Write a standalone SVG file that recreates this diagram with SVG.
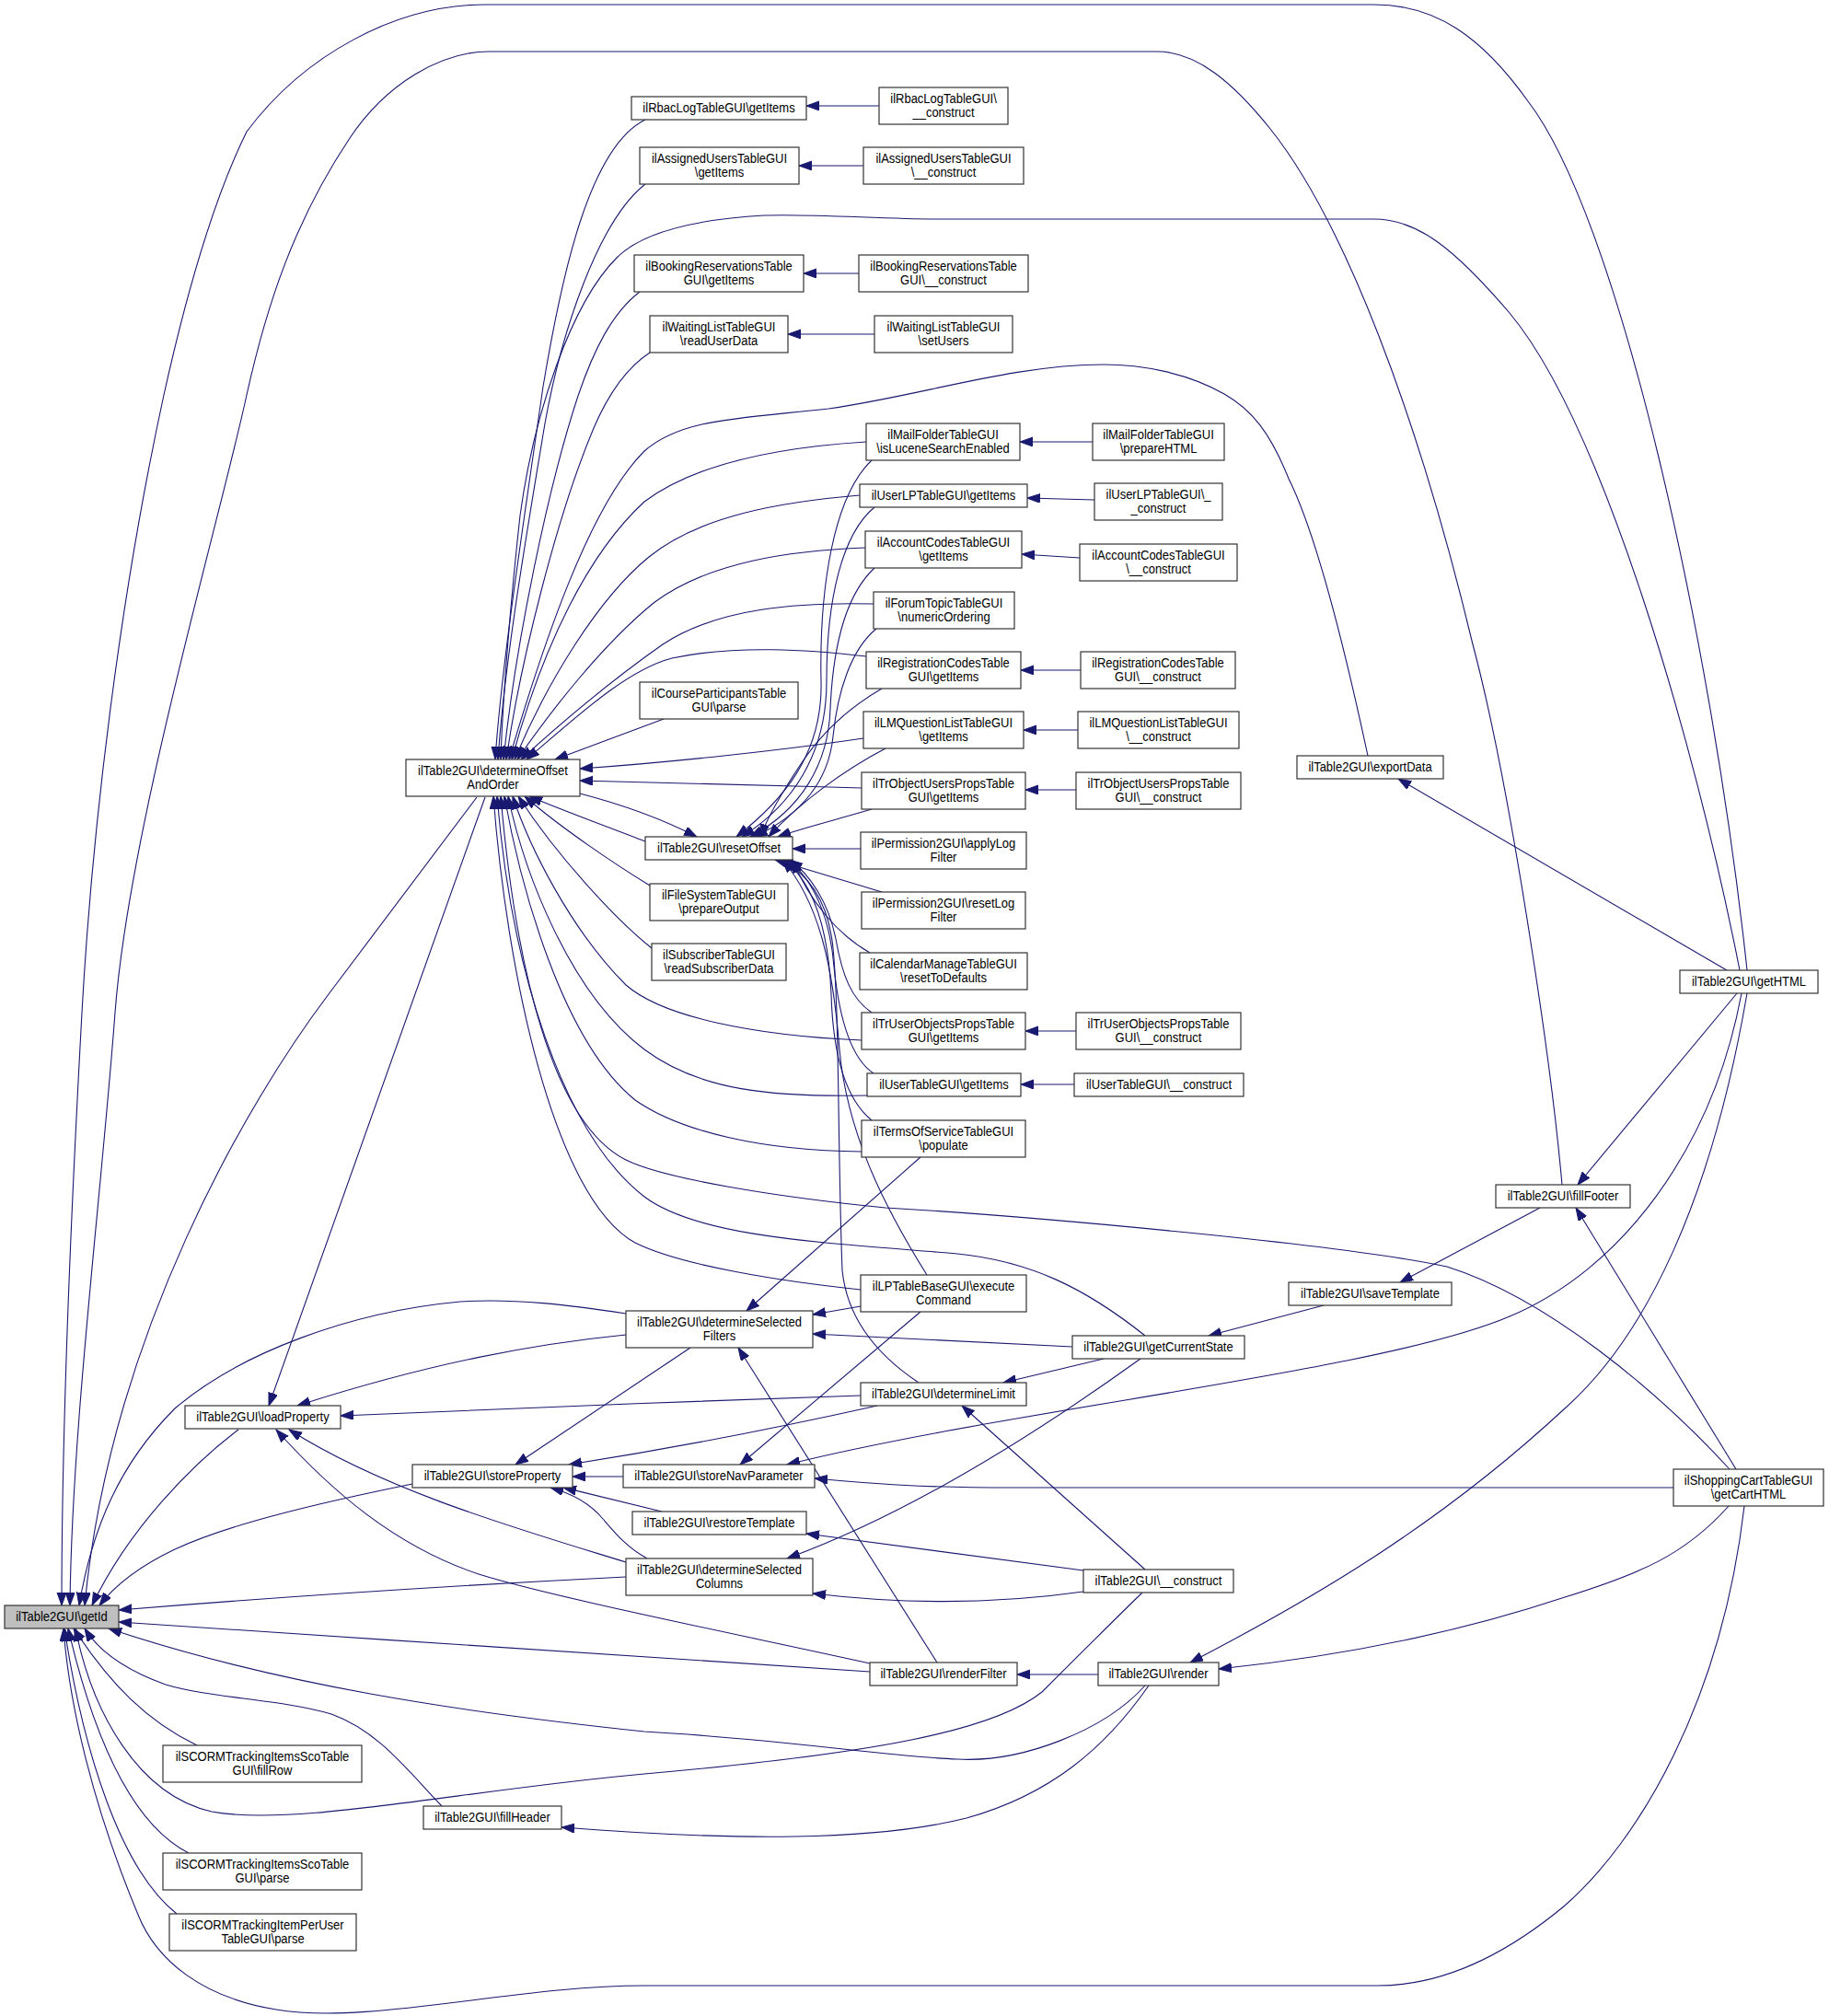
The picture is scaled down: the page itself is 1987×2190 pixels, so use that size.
<svg xmlns="http://www.w3.org/2000/svg" width="1987" height="2190" viewBox="0 0 1987 2190">
<style>
.n rect{fill:#fff;stroke:#333;stroke-width:1.2}
.n text{font-family:"Liberation Sans",Arial,Helvetica,sans-serif;font-size:15px;text-anchor:middle;fill:#000}
.e path{fill:none;stroke:#191970;stroke-width:1.1;marker-end:url(#a)}
</style>
<defs>
<marker id="a" markerUnits="userSpaceOnUse" markerWidth="15" markerHeight="11" refX="14" refY="5" orient="auto" viewBox="0 0 15 11">
<path d="M0,0 L14,5 L0,10 z" fill="#191970" stroke="#191970" stroke-width="1"/>
</marker>
</defs>
<rect width="1987" height="2190" fill="#fff"/>
<g id="edges" class="e">
<path d="M1898,1054 C1860,700 1760,240 1660,110 C1610,40 1560,5 1493,5 L527,5 C430,5 330,60 268,143 C230,220 200,330 178,429 C130,650 100,900 89,1100 C78,1300 67,1550 67,1744"/>
<path d="M1697,1287 C1685,1150 1640,850 1600,700 C1540,450 1460,240 1380,140 C1340,90 1300,56 1257,56 L531,56 C480,56 420,90 380,150 C320,240 290,330 268,429 C240,560 140,900 125,1100 C110,1300 78,1550 76,1744"/>
<path d="M1895,1636 C1870,1850 1780,2000 1700,2070 C1640,2120 1570,2157 1497,2157 L700,2157 C560,2157 400,2200 300,2183 C220,2170 170,2130 150,2080 C100,1960 75,1850 69,1769"/>
<path d="M518,866 L357,1080 C270,1195 120,1450 92,1744"/>
<path d="M680,1427 C620,1418 560,1410 500,1414 C380,1425 260,1470 190,1530 C130,1590 100,1660 86,1744"/>
<path d="M259,1553 C210,1590 140,1660 100,1744"/>
<path d="M448,1612 C350,1632 250,1655 190,1683 C150,1702 125,1722 108,1744"/>
<path d="M680,1713 C500,1722 300,1735 129,1749"/>
<path d="M945,1816 C700,1800 400,1780 129,1762"/>
<path d="M1244,1831 C1200,1880 1110,1915 1040,1911 C960,1908 860,1890 700,1881 C500,1860 300,1830 118,1769"/>
<path d="M1241,1730 C1200,1770 1160,1810 1132,1838 C1080,1880 950,1905 700,1927 C500,1945 320,1985 230,1968 C150,1950 100,1860 82,1769"/>
<path d="M480,1962 C440,1920 410,1880 360,1862 C300,1845 230,1845 180,1830 C130,1812 105,1790 92,1769"/>
<path d="M214,1896 C160,1870 120,1830 80,1769"/>
<path d="M205,2013 C140,1980 100,1880 74,1769"/>
<path d="M192,2079 C130,2030 90,1900 70,1769"/>
<path d="M701,130 C640,160 610,300 590,420 C570,560 545,720 538,825"/>
<path d="M701,200 C650,240 610,360 592,460 C572,580 548,720 541,825"/>
<path d="M1890,1054 C1840,800 1740,460 1640,340 C1580,270 1540,238 1493,238 L1020,238 C960,238 880,232 830,234 C760,238 700,250 670,280 C620,330 580,450 565,560 C555,650 546,760 544,825"/>
<path d="M695,317 C665,340 645,380 628,430 C595,530 560,700 547,825"/>
<path d="M706,383 C680,400 660,430 645,465 C605,560 565,720 550,825"/>
<path d="M1486,821 C1460,700 1430,580 1400,520 C1380,470 1360,445 1330,428 C1290,405 1240,396 1199,396 C1100,396 1000,430 900,444 C800,455 740,455 700,490 C640,550 590,700 553,825"/>
<path d="M941,480 C860,485 760,500 700,545 C640,600 590,700 556,825"/>
<path d="M934,538 C850,545 760,560 705,605 C650,650 595,740 559,825"/>
<path d="M940,595 C860,598 770,610 710,655 C655,700 600,770 562,825"/>
<path d="M949,656 C870,654 780,660 720,700 C670,735 610,785 566,825"/>
<path d="M941,713 C880,706 800,700 730,715 C680,728 625,780 572,825"/>
<path d="M721,781 L603,825"/>
<path d="M938,802 C850,815 730,828 630,835"/>
<path d="M936,856 C830,853 720,850 630,848"/>
<path d="M701,914 C660,898 610,880 575,865"/>
<path d="M706,962 C670,940 610,900 570,865"/>
<path d="M708,1030 C670,1000 605,930 563,865"/>
<path d="M936,1130 C820,1125 720,1105 680,1070 C620,1010 575,920 557,865"/>
<path d="M942,1190 C840,1192 760,1185 700,1140 C620,1080 570,950 552,865"/>
<path d="M936,1251 C830,1250 740,1230 690,1195 C610,1130 565,960 548,865"/>
<path d="M1879,1596 C1800,1510 1680,1410 1572,1376 C1450,1350 1100,1320 962,1312 C840,1300 720,1280 680,1260 C600,1220 560,1050 544,865"/>
<path d="M1244,1451 C1180,1400 1120,1370 1040,1362 C900,1350 760,1345 700,1300 C610,1230 555,1050 540,865"/>
<path d="M935,1401 C850,1392 740,1375 690,1350 C600,1300 550,1050 536,865"/>
<path d="M527,866 L292,1527"/>
<path d="M630,862 C680,875 720,890 757,909"/>
<path d="M680,1450 C580,1460 470,1480 323,1527"/>
<path d="M935,1516 C750,1522 550,1530 370,1538"/>
<path d="M945,1807 C800,1775 600,1735 520,1710 C430,1680 360,1620 300,1553"/>
<path d="M680,1697 C560,1660 420,1620 314,1553"/>
<path d="M750,1464 L560,1591"/>
<path d="M953,1527 C850,1550 720,1575 618,1591"/>
<path d="M677,1604 L622,1604"/>
<path d="M719,1642 C690,1635 650,1625 612,1616"/>
<path d="M703,1693 C680,1680 668,1665 655,1650 C640,1632 620,1622 598,1616"/>
<path d="M1000,1257 L811,1424"/>
<path d="M935,1419 L883,1428"/>
<path d="M1165,1463 C1050,1458 950,1452 883,1449"/>
<path d="M1018,1806 L802,1464"/>
<path d="M1239,1476 C1150,1540 1000,1640 855,1693"/>
<path d="M1177,1729 C1100,1740 1000,1745 883,1731"/>
<path d="M1193,1819 L1105,1819"/>
<path d="M1898,1079 C1860,1300 1790,1450 1700,1530 C1560,1660 1420,1740 1293,1806"/>
<path d="M1878,1636 C1830,1690 1780,1710 1700,1735 C1580,1775 1450,1800 1324,1813"/>
<path d="M1248,1831 C1200,1900 1140,1950 1050,1975 C950,2000 800,2000 610,1985"/>
<path d="M1887,1079 L1714,1287"/>
<path d="M1886,1596 L1712,1312"/>
<path d="M1673,1312 L1521,1393"/>
<path d="M1438,1418 L1313,1451"/>
<path d="M1199,1476 L1090,1502"/>
<path d="M1244,1705 L1045,1527"/>
<path d="M1000,1425 L804,1591"/>
<path d="M1892,1079 C1860,1250 1760,1380 1640,1430 C1500,1490 1100,1530 855,1591"/>
<path d="M1818,1616 L1100,1616 C1000,1616 950,1612 885,1606"/>
<path d="M1177,1706 L876,1666"/>
<path d="M1876,1054 L1519,846"/>
<path d="M947,500 C905,540 890,640 892,740 C894,820 850,870 800,909"/>
<path d="M950,551 C915,580 898,650 898,740 C898,820 860,875 806,909"/>
<path d="M950,617 C920,645 905,700 902,770 C900,830 870,880 815,909"/>
<path d="M952,683 C925,705 910,750 905,800 C900,850 870,885 820,909"/>
<path d="M958,748 C920,770 890,800 870,830 C850,860 835,885 826,909"/>
<path d="M962,813 C920,835 870,870 835,909"/>
<path d="M947,879 C910,890 870,900 845,909"/>
<path d="M935,922 L861,922"/>
<path d="M958,969 L842,934"/>
<path d="M945,1035 C910,1015 880,980 861,934"/>
<path d="M947,1100 C925,1085 915,1060 908,1020 C900,980 880,950 858,934"/>
<path d="M949,1166 C925,1150 912,1110 906,1050 C902,1000 885,955 855,934"/>
<path d="M947,1217 C920,1195 905,1150 903,1080 C900,1010 885,960 852,934"/>
<path d="M1007,1385 C960,1310 920,1230 912,1140 C905,1050 890,980 850,934"/>
<path d="M998,1502 C950,1470 920,1430 915,1380 C910,1250 912,1100 905,1030 C900,980 880,950 848,934"/>
<path d="M955,115 L876,115"/>
<path d="M938,180 L868,180"/>
<path d="M933,297 L873,297"/>
<path d="M950,363 L856,363"/>
<path d="M1187,480 L1108,480"/>
<path d="M1189,543 L1116,541"/>
<path d="M1173,606 L1110,602"/>
<path d="M1174,728 L1109,728"/>
<path d="M1171,793 L1112,793"/>
<path d="M1169,858 L1114,858"/>
<path d="M1169,1120 L1114,1120"/>
<path d="M1167,1178 L1109,1178"/>
</g>
<g id="n-getId" class="n"><rect x="5" y="1744" width="124" height="25" style="fill:#bfbfbf"/><text transform="translate(67,1761) scale(0.867,1)">ilTable2GUI\getId</text></g>
<g id="n-determineOffsetAndOrder" class="n"><rect x="441" y="825" width="189" height="40"/><text transform="translate(535.5,842) scale(0.867,1)">ilTable2GUI\determineOffset</text><text transform="translate(535.5,857) scale(0.867,1)">AndOrder</text></g>
<g id="n-loadProperty" class="n"><rect x="201" y="1527" width="169" height="25"/><text transform="translate(285.5,1544) scale(0.867,1)">ilTable2GUI\loadProperty</text></g>
<g id="n-storeProperty" class="n"><rect x="448" y="1591" width="174" height="25"/><text transform="translate(535,1608) scale(0.867,1)">ilTable2GUI\storeProperty</text></g>
<g id="n-determineSelectedFilters" class="n"><rect x="680" y="1424" width="203" height="40"/><text transform="translate(781.5,1441) scale(0.867,1)">ilTable2GUI\determineSelected</text><text transform="translate(781.5,1456) scale(0.867,1)">Filters</text></g>
<g id="n-determineSelectedColumns" class="n"><rect x="680" y="1693" width="203" height="40"/><text transform="translate(781.5,1710) scale(0.867,1)">ilTable2GUI\determineSelected</text><text transform="translate(781.5,1725) scale(0.867,1)">Columns</text></g>
<g id="n-renderFilter" class="n"><rect x="945" y="1806" width="160" height="25"/><text transform="translate(1025,1823) scale(0.867,1)">ilTable2GUI\renderFilter</text></g>
<g id="n-render" class="n"><rect x="1193" y="1806" width="131" height="25"/><text transform="translate(1258.5,1823) scale(0.867,1)">ilTable2GUI\render</text></g>
<g id="n-fillHeader" class="n"><rect x="460" y="1962" width="150" height="25"/><text transform="translate(535,1979) scale(0.867,1)">ilTable2GUI\fillHeader</text></g>
<g id="n-fillFooter" class="n"><rect x="1625" y="1287" width="146" height="25"/><text transform="translate(1698,1304) scale(0.867,1)">ilTable2GUI\fillFooter</text></g>
<g id="n-getHTML" class="n"><rect x="1825" y="1054" width="150" height="25"/><text transform="translate(1900,1071) scale(0.867,1)">ilTable2GUI\getHTML</text></g>
<g id="n-getCartHTML" class="n"><rect x="1818" y="1596" width="163" height="40"/><text transform="translate(1899.5,1613) scale(0.867,1)">ilShoppingCartTableGUI</text><text transform="translate(1899.5,1628) scale(0.867,1)">\getCartHTML</text></g>
<g id="n-construct" class="n"><rect x="1177" y="1705" width="163" height="25"/><text transform="translate(1258.5,1722) scale(0.867,1)">ilTable2GUI\__construct</text></g>
<g id="n-scoFillRow" class="n"><rect x="177" y="1896" width="216" height="40"/><text transform="translate(285,1913) scale(0.867,1)">ilSCORMTrackingItemsScoTable</text><text transform="translate(285,1928) scale(0.867,1)">GUI\fillRow</text></g>
<g id="n-scoParse" class="n"><rect x="177" y="2013" width="216" height="40"/><text transform="translate(285,2030) scale(0.867,1)">ilSCORMTrackingItemsScoTable</text><text transform="translate(285,2045) scale(0.867,1)">GUI\parse</text></g>
<g id="n-perUserParse" class="n"><rect x="184" y="2079" width="203" height="40"/><text transform="translate(285.5,2096) scale(0.867,1)">ilSCORMTrackingItemPerUser</text><text transform="translate(285.5,2111) scale(0.867,1)">TableGUI\parse</text></g>
<g id="n-resetOffset" class="n"><rect x="701" y="909" width="160" height="25"/><text transform="translate(781,926) scale(0.867,1)">ilTable2GUI\resetOffset</text></g>
<g id="n-storeNavParameter" class="n"><rect x="677" y="1591" width="208" height="25"/><text transform="translate(781,1608) scale(0.867,1)">ilTable2GUI\storeNavParameter</text></g>
<g id="n-restoreTemplate" class="n"><rect x="687" y="1642" width="189" height="25"/><text transform="translate(781.5,1659) scale(0.867,1)">ilTable2GUI\restoreTemplate</text></g>
<g id="n-determineLimit" class="n"><rect x="935" y="1502" width="180" height="25"/><text transform="translate(1025,1519) scale(0.867,1)">ilTable2GUI\determineLimit</text></g>
<g id="n-getCurrentState" class="n"><rect x="1165" y="1451" width="187" height="25"/><text transform="translate(1258.5,1468) scale(0.867,1)">ilTable2GUI\getCurrentState</text></g>
<g id="n-saveTemplate" class="n"><rect x="1400" y="1393" width="177" height="25"/><text transform="translate(1488.5,1410) scale(0.867,1)">ilTable2GUI\saveTemplate</text></g>
<g id="n-exportData" class="n"><rect x="1409" y="821" width="159" height="25"/><text transform="translate(1488.5,838) scale(0.867,1)">ilTable2GUI\exportData</text></g>
<g id="n-executeCommand" class="n"><rect x="935" y="1385" width="180" height="40"/><text transform="translate(1025,1402) scale(0.867,1)">ilLPTableBaseGUI\execute</text><text transform="translate(1025,1417) scale(0.867,1)">Command</text></g>
<g id="n-tosPopulate" class="n"><rect x="936" y="1217" width="178" height="40"/><text transform="translate(1025,1234) scale(0.867,1)">ilTermsOfServiceTableGUI</text><text transform="translate(1025,1249) scale(0.867,1)">\populate</text></g>
<g id="n-userGetItems" class="n"><rect x="942" y="1166" width="167" height="25"/><text transform="translate(1025.5,1183) scale(0.867,1)">ilUserTableGUI\getItems</text></g>
<g id="n-userConstruct" class="n"><rect x="1167" y="1166" width="184" height="25"/><text transform="translate(1259,1183) scale(0.867,1)">ilUserTableGUI\__construct</text></g>
<g id="n-truopGetItems" class="n"><rect x="936" y="1100" width="178" height="40"/><text transform="translate(1025,1117) scale(0.867,1)">ilTrUserObjectsPropsTable</text><text transform="translate(1025,1132) scale(0.867,1)">GUI\getItems</text></g>
<g id="n-truopConstruct" class="n"><rect x="1169" y="1100" width="179" height="40"/><text transform="translate(1258.5,1117) scale(0.867,1)">ilTrUserObjectsPropsTable</text><text transform="translate(1258.5,1132) scale(0.867,1)">GUI\__construct</text></g>
<g id="n-calendarReset" class="n"><rect x="934" y="1035" width="182" height="40"/><text transform="translate(1025,1052) scale(0.867,1)">ilCalendarManageTableGUI</text><text transform="translate(1025,1067) scale(0.867,1)">\resetToDefaults</text></g>
<g id="n-permResetLog" class="n"><rect x="936" y="969" width="178" height="40"/><text transform="translate(1025,986) scale(0.867,1)">ilPermission2GUI\resetLog</text><text transform="translate(1025,1001) scale(0.867,1)">Filter</text></g>
<g id="n-permApplyLog" class="n"><rect x="935" y="904" width="180" height="40"/><text transform="translate(1025,921) scale(0.867,1)">ilPermission2GUI\applyLog</text><text transform="translate(1025,936) scale(0.867,1)">Filter</text></g>
<g id="n-troupGetItems" class="n"><rect x="936" y="839" width="178" height="40"/><text transform="translate(1025,856) scale(0.867,1)">ilTrObjectUsersPropsTable</text><text transform="translate(1025,871) scale(0.867,1)">GUI\getItems</text></g>
<g id="n-troupConstruct" class="n"><rect x="1169" y="839" width="179" height="40"/><text transform="translate(1258.5,856) scale(0.867,1)">ilTrObjectUsersPropsTable</text><text transform="translate(1258.5,871) scale(0.867,1)">GUI\__construct</text></g>
<g id="n-lmqGetItems" class="n"><rect x="938" y="773" width="174" height="40"/><text transform="translate(1025,790) scale(0.867,1)">ilLMQuestionListTableGUI</text><text transform="translate(1025,805) scale(0.867,1)">\getItems</text></g>
<g id="n-lmqConstruct" class="n"><rect x="1171" y="773" width="175" height="40"/><text transform="translate(1258.5,790) scale(0.867,1)">ilLMQuestionListTableGUI</text><text transform="translate(1258.5,805) scale(0.867,1)">\__construct</text></g>
<g id="n-regGetItems" class="n"><rect x="941" y="708" width="168" height="40"/><text transform="translate(1025,725) scale(0.867,1)">ilRegistrationCodesTable</text><text transform="translate(1025,740) scale(0.867,1)">GUI\getItems</text></g>
<g id="n-regConstruct" class="n"><rect x="1174" y="708" width="168" height="40"/><text transform="translate(1258,725) scale(0.867,1)">ilRegistrationCodesTable</text><text transform="translate(1258,740) scale(0.867,1)">GUI\__construct</text></g>
<g id="n-courseParse" class="n"><rect x="695" y="741" width="172" height="40"/><text transform="translate(781,758) scale(0.867,1)">ilCourseParticipantsTable</text><text transform="translate(781,773) scale(0.867,1)">GUI\parse</text></g>
<g id="n-forumOrdering" class="n"><rect x="949" y="643" width="153" height="40"/><text transform="translate(1025.5,660) scale(0.867,1)">ilForumTopicTableGUI</text><text transform="translate(1025.5,675) scale(0.867,1)">\numericOrdering</text></g>
<g id="n-accGetItems" class="n"><rect x="940" y="577" width="170" height="40"/><text transform="translate(1025,594) scale(0.867,1)">ilAccountCodesTableGUI</text><text transform="translate(1025,609) scale(0.867,1)">\getItems</text></g>
<g id="n-accConstruct" class="n"><rect x="1173" y="591" width="171" height="40"/><text transform="translate(1258.5,608) scale(0.867,1)">ilAccountCodesTableGUI</text><text transform="translate(1258.5,623) scale(0.867,1)">\__construct</text></g>
<g id="n-ulpGetItems" class="n"><rect x="934" y="526" width="182" height="25"/><text transform="translate(1025,543) scale(0.867,1)">ilUserLPTableGUI\getItems</text></g>
<g id="n-ulpConstruct" class="n"><rect x="1189" y="525" width="139" height="40"/><text transform="translate(1258.5,542) scale(0.867,1)">ilUserLPTableGUI\_</text><text transform="translate(1258.5,557) scale(0.867,1)">_construct</text></g>
<g id="n-mailLucene" class="n"><rect x="941" y="460" width="167" height="40"/><text transform="translate(1024.5,477) scale(0.867,1)">ilMailFolderTableGUI</text><text transform="translate(1024.5,492) scale(0.867,1)">\isLuceneSearchEnabled</text></g>
<g id="n-mailPrepare" class="n"><rect x="1187" y="460" width="143" height="40"/><text transform="translate(1258.5,477) scale(0.867,1)">ilMailFolderTableGUI</text><text transform="translate(1258.5,492) scale(0.867,1)">\prepareHTML</text></g>
<g id="n-waitRead" class="n"><rect x="706" y="343" width="150" height="40"/><text transform="translate(781,360) scale(0.867,1)">ilWaitingListTableGUI</text><text transform="translate(781,375) scale(0.867,1)">\readUserData</text></g>
<g id="n-waitSet" class="n"><rect x="950" y="343" width="150" height="40"/><text transform="translate(1025,360) scale(0.867,1)">ilWaitingListTableGUI</text><text transform="translate(1025,375) scale(0.867,1)">\setUsers</text></g>
<g id="n-bookGetItems" class="n"><rect x="689" y="277" width="184" height="40"/><text transform="translate(781,294) scale(0.867,1)">ilBookingReservationsTable</text><text transform="translate(781,309) scale(0.867,1)">GUI\getItems</text></g>
<g id="n-bookConstruct" class="n"><rect x="933" y="277" width="184" height="40"/><text transform="translate(1025,294) scale(0.867,1)">ilBookingReservationsTable</text><text transform="translate(1025,309) scale(0.867,1)">GUI\__construct</text></g>
<g id="n-assignGetItems" class="n"><rect x="695" y="160" width="173" height="40"/><text transform="translate(781.5,177) scale(0.867,1)">ilAssignedUsersTableGUI</text><text transform="translate(781.5,192) scale(0.867,1)">\getItems</text></g>
<g id="n-assignConstruct" class="n"><rect x="938" y="160" width="174" height="40"/><text transform="translate(1025,177) scale(0.867,1)">ilAssignedUsersTableGUI</text><text transform="translate(1025,192) scale(0.867,1)">\__construct</text></g>
<g id="n-rbacGetItems" class="n"><rect x="686" y="105" width="190" height="25"/><text transform="translate(781,122) scale(0.867,1)">ilRbacLogTableGUI\getItems</text></g>
<g id="n-rbacConstruct" class="n"><rect x="955" y="95" width="140" height="40"/><text transform="translate(1025,112) scale(0.867,1)">ilRbacLogTableGUI\</text><text transform="translate(1025,127) scale(0.867,1)">__construct</text></g>
<g id="n-fsPrepare" class="n"><rect x="706" y="960" width="150" height="40"/><text transform="translate(781,977) scale(0.867,1)">ilFileSystemTableGUI</text><text transform="translate(781,992) scale(0.867,1)">\prepareOutput</text></g>
<g id="n-subscriberRead" class="n"><rect x="708" y="1025" width="146" height="40"/><text transform="translate(781,1042) scale(0.867,1)">ilSubscriberTableGUI</text><text transform="translate(781,1057) scale(0.867,1)">\readSubscriberData</text></g>
</svg>
